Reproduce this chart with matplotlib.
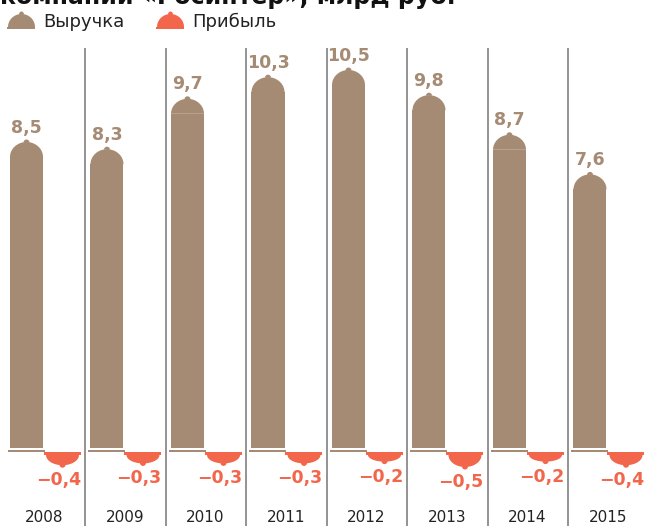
import numpy as np
import matplotlib
matplotlib.use("Agg")
import matplotlib.pyplot as plt
from matplotlib.patches import Rectangle, Polygon

years = ["2008", "2009", "2010", "2011", "2012", "2013", "2014", "2015"]
revenue = [8.5, 8.3, 9.7, 10.3, 10.5, 9.8, 8.7, 7.6]
profit = [-0.4, -0.3, -0.3, -0.3, -0.2, -0.5, -0.2, -0.4]
revenue_labels = ["8,5", "8,3", "9,7", "10,3", "10,5", "9,8", "8,7", "7,6"]
profit_labels = ["−0,4", "−0,3", "−0,3", "−0,3", "−0,2", "−0,5", "−0,2", "−0,4"]

BROWN = "#a68b74"
RED = "#f2664c"
TEXT = "#222222"

COL_PX = 80.5   # column width in pixels
UNIT_PX = 36.0  # pixels per billion roubles
X0_PX = 5.0     # left edge of first column
BASE_PX = 448.0  # baseline, pixels from top


def px_x(p):
    return p / COL_PX


def px_y(p):
    return p / UNIT_PX


def half_ellipse(cx, cy, w, h, up=True, n=40):
    t = np.linspace(0, np.pi, n)
    xs = cx + w / 2 * np.cos(t)
    ys = cy + (h if up else -h) * np.sin(t)
    return np.column_stack([xs, ys])


def cloche_up(ax, cx, top, w, dome_h, color, knob_w, knob_h):
    body_top = top - dome_h
    ax.add_patch(Rectangle((cx - w / 2, 0), w, body_top, color=color, lw=0))
    ax.add_patch(Polygon(half_ellipse(cx, body_top, w, dome_h), color=color, lw=0))
    ax.add_patch(Polygon(half_ellipse(cx, top - px_y(0.5), knob_w, knob_h), color=color, lw=0))


fig = plt.figure(figsize=(6.48, 5.26), dpi=100)
ax = fig.add_axes([0, 0, 1, 1])
ax.set_xlim(-X0_PX / COL_PX, (648 - X0_PX) / COL_PX)
ax.set_ylim(-(526 - BASE_PX) / UNIT_PX, BASE_PX / UNIT_PX)
ax.axis("off")

bar_w = px_x(33)
b_off = px_x(21.5)
r_off = px_x(57.5)

for i, (rv, pv) in enumerate(zip(revenue, profit)):
    # revenue cloche
    cx = i + b_off
    cloche_up(ax, cx, rv, bar_w, px_y(15), BROWN, px_x(6), px_y(3))
    ax.add_patch(Rectangle((i + px_x(3), -px_y(3.5)), px_x(37), px_y(2), color=BROWN, lw=0))
    ax.text(cx, rv + px_y(9.5), revenue_labels[i], ha="center", va="baseline",
            fontsize=12.5, fontweight="bold", color=BROWN)

    # profit cloche (hanging down)
    rx = i + r_off
    ax.add_patch(Rectangle((i + px_x(39), -px_y(7)), px_x(37), px_y(3), color=RED, lw=0))
    depth = px_y(3) + abs(pv) * 0.5
    ax.add_patch(Polygon(half_ellipse(rx, -px_y(7), bar_w, depth, up=False), color=RED, lw=0))
    knob_y = -px_y(7) - depth + px_y(0.5)
    ax.add_patch(Polygon(half_ellipse(rx, knob_y, px_x(6), px_y(3), up=False), color=RED, lw=0))
    ax.text(i + px_x(76), knob_y - px_y(6.5), profit_labels[i], ha="right", va="top",
            fontsize=12.5, fontweight="bold", color=RED)

    ax.text(i + 0.49, -px_y(522 - BASE_PX), years[i], ha="center", va="baseline",
            fontsize=11, color=TEXT)

ax.vlines(np.arange(1, len(years)), -px_y(526 - BASE_PX), px_y(BASE_PX - 48),
          color="#8a8a8a", lw=1.3)


# legend
def legend_icon(x_px, color):
    cx = (x_px - X0_PX) / COL_PX
    base = px_y(BASE_PX - 27)
    w = px_x(27)
    ax.add_patch(Rectangle((cx - px_x(14), base - px_y(1.5)), px_x(28), px_y(1.5), color=color, lw=0))
    ax.add_patch(Polygon(half_ellipse(cx, base, w, px_y(13)), color=color, lw=0))
    ax.add_patch(Polygon(half_ellipse(cx, base + px_y(12.5), px_x(5), px_y(3)), color=color, lw=0))


legend_icon(21.5, BROWN)
legend_icon(170.5, RED)
ax.text(px_x(43 - X0_PX), px_y(BASE_PX - 27), "Выручка", ha="left", va="baseline",
        fontsize=13, color=TEXT)
ax.text(px_x(192 - X0_PX), px_y(BASE_PX - 27), "Прибыль", ha="left", va="baseline",
        fontsize=13, color=TEXT)

# title, cut off at the top as in the source
ax.text(px_x(-X0_PX), px_y(BASE_PX - 4), "компании «Росинтер», млрд руб.", ha="left",
        va="baseline", fontsize=17, fontweight="bold", color="#111111")

fig.savefig("out.png", dpi=100)
